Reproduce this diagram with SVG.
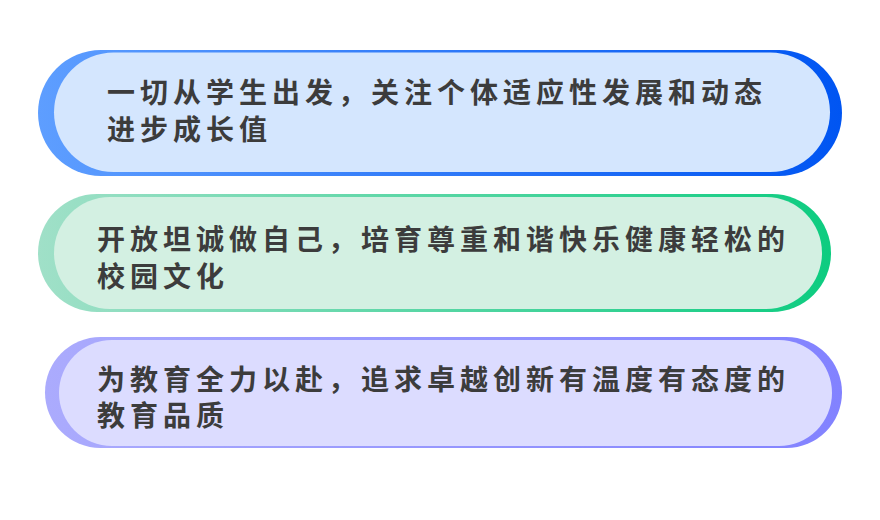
<svg xmlns="http://www.w3.org/2000/svg" width="880" height="520" viewBox="0 0 880 520">
<defs>
<linearGradient id="g1" x1="0" y1="0" x2="1" y2="0">
<stop offset="0" stop-color="#5E9EFF"/>
<stop offset="1" stop-color="#0055F2"/>
</linearGradient>
<linearGradient id="g2" x1="0" y1="0" x2="1" y2="0">
<stop offset="0" stop-color="#A0E0C8"/>
<stop offset="1" stop-color="#0DCC80"/>
</linearGradient>
<linearGradient id="g3" x1="0" y1="0" x2="1" y2="0">
<stop offset="0" stop-color="#ABABFD"/>
<stop offset="1" stop-color="#8282FF"/>
</linearGradient>
<style>
.t{font-family:"Noto Sans CJK SC","Noto Sans",sans-serif;font-weight:700;font-size:28px;letter-spacing:5px;fill:#3C3C3C}
</style>
</defs>
<rect width="880" height="520" fill="#FFFFFF"/>
<g id="node1">
<rect x="38" y="50" width="804" height="126" rx="63" fill="url(#g1)"/>
<rect x="54" y="52.5" width="776" height="119.5" rx="59.75" fill="#D4E6FE"/>
<text class="t" x="107" y="103">一切从学生出发，关注个体适应性发展和动态</text>
<text class="t" x="107" y="139.5">进步成长值</text>
</g>
<g id="node2">
<rect x="38" y="194" width="793" height="118" rx="59" fill="url(#g2)"/>
<rect x="54" y="197" width="768" height="112" rx="56" fill="#D3F0E2"/>
<text class="t" x="97" y="249.5">开放坦诚做自己，培育尊重和谐快乐健康轻松的</text>
<text class="t" x="97" y="286.5">校园文化</text>
</g>
<g id="node3">
<rect x="45" y="337" width="797" height="111" rx="55.5" fill="url(#g3)"/>
<rect x="59" y="340" width="773" height="106" rx="53" fill="#DCDCFF"/>
<text class="t" x="97" y="389.5">为教育全力以赴，追求卓越创新有温度有态度的</text>
<text class="t" x="97" y="426">教育品质</text>
</g>
<g id="connectors"/>
</svg>
